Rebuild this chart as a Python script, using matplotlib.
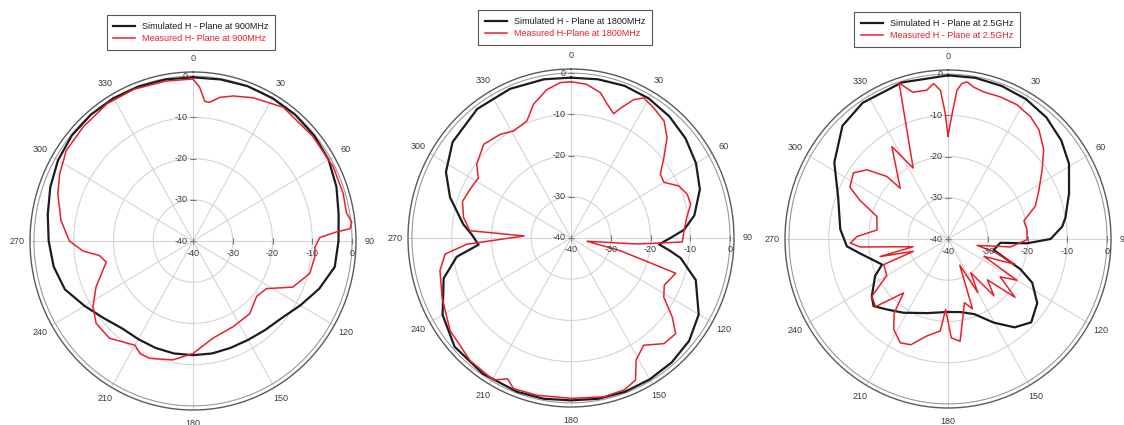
import numpy as np
import matplotlib.pyplot as plt
from matplotlib.transforms import offset_copy

plt.rcParams['font.family'] = ['Liberation Sans', 'DejaVu Sans']

# ---- 900 MHz -------------------------------------------------------------
sim_900_deg = [0, 10, 20, 30, 40, 50, 60, 70, 80, 90, 100, 110, 120, 130, 140,
               150, 160, 170, 180, 190, 200, 210, 220, 230, 240, 250, 260, 270,
               280, 290, 300, 310, 320, 330, 340, 350, 360]
sim_900_db = [-0.3, -0.2, 0, 0, 0, -0.2, -0.6, -1.6, -2.8, -3.4, -3.8, -6.2,
              -8.8, -10.9, -11.8, -12.3, -12.4, -12.3, -12.3, -12.3, -12.4,
              -12.5, -12.3, -10.8, -8.5, -5.7, -4.4, -3.7, -2.9, -1.8, -0.8,
              -0.2, 0, 0, -0.1, -0.2, -0.3]

meas_900_deg = [0, 2.6, 5, 7, 11, 16, 23.5, 35, 50, 63, 73, 80, 83.4, 85.7,
                86.5, 88.5, 92.8, 97, 105, 114, 122, 130, 141, 154, 168, 180,
                190, 201, 206, 210, 221.7, 230.7, 237.6, 245.5, 256.8, 261.5,
                265, 270, 278.6, 288.7, 296, 304.5, 315, 327, 338, 350, 360]
meas_900_db = [-0.7, -2.7, -6, -6.1, -4.5, -3.4, -2.1, -0.4, -0.6, -0.4, -0.5,
               -0.8, 0.2, -0.4, -3.8, -8.1, -9.3, -9.1, -9.6, -12.5, -18.2,
               -19.1, -17.3, -16.9, -15.9, -12.7, -10.7, -9.5, -9.6, -10.8,
               -8.4, -8.5, -10.2, -13.2, -17.6, -16.2, -12.2, -8.9, -6.4, -4.1,
               -2.7, -1.3, -0.9, -0.3, -0.3, -0.6, -0.7]

# ---- 1800 MHz ------------------------------------------------------------
sim_1800_deg = [0, 10, 20, 30, 40, 50, 60, 70, 80, 86, 90, 94, 97, 100, 108,
                120, 130, 140, 150, 160, 170, 180, 190, 200, 214, 228, 240, 253,
                261, 266, 272, 277, 288, 297, 308, 323, 337, 350, 360]
sim_1800_db = [-1.1, -0.9, -0.7, -0.9, -1.5, -2.4, -3.7, -5.5, -8.5, -11.5,
               -15, -17.8, -15, -12, -7, -2.9, -1.2, -0.6, -0.4, -0.3, -0.4,
               -0.6, -0.4, -0.3, -0.3, -0.6, -2.7, -6.5, -10.9, -16.7, -15,
               -12.7, -8, -4.7, -2.2, -0.8, -0.7, -0.9, -1.1]

meas_1800_deg = [0, 6, 11.9, 15.7, 19.6, 21.5, 25.2, 28.3, 33.4, 39.5, 44.8,
                 50.2, 55.4, 60, 65, 70, 74.8, 80, 86.4, 92, 95, 101, 104, 107,
                 108, 116, 121.6, 127, 131.4, 137.6, 144.9, 151, 154.8, 160,
                 168, 180, 192.7, 201.6, 205, 209.5, 220.5, 233.6, 246, 256.5,
                 263, 266.7, 272.4, 274, 280.5, 288, 295, 302, 307, 316, 324.8,
                 331, 338.7, 343.8, 350.4, 356, 360]
meas_1800_db = [-2.1, -2.5, -4, -6.3, -8, -6.2, -2.9, -1.4, -2.2, -3.2, -5.7,
                -9.6, -12.7, -13, -10.1, -8.9, -8.8, -10.4, -11.5, -12, -23.3,
                -35.9, -27.2, -18.3, -12.3, -13.9, -12.6, -8.1, -4.9, -5.3,
                -8.2, -6.2, -1.9, -0.8, -0.6, -1.1, -0.9, -0.7, -2.3, -0.4,
                -0.9, -2.2, -4.5, -6.1, -8.1, -13.8, -28.2, -14.5, -12.5,
                -11.3, -12, -12.5, -10.3, -8.4, -9.2, -10.3, -9.5, -6.2, -3.5,
                -2.2, -2.1]

# ---- 2.5 GHz -------------------------------------------------------------
sim_2500_deg = [0, 10, 20, 30, 40, 50, 59, 70, 80, 84, 90, 93, 94, 103, 108.6,
                112, 116.6, 124.7, 134, 142, 150.5, 160, 170, 180, 196, 212,
                222, 229, 234, 244, 249.5, 261, 266, 275, 290, 303, 316, 327,
                343, 360]
sim_2500_db = [-0.3, -0.3, -0.5, -0.8, -1.5, -2.8, -4.5, -7.6, -10, -11.1,
               -14.2, -20.1, -26.8, -28.2, -24.3, -20.3, -16.3, -12.7, -10.9,
               -12.8, -16.7, -20.6, -22, -22.3, -21.3, -18.9, -17, -15.2, -16.3,
               -19.6, -22.3, -17.6, -14.5, -12.8, -10.6, -5.9, -1.8, -0.6, -0.3,
               -0.3]

meas_2500_deg = [0, 2, 3.6, 5.3, 7.2, 10, 14, 21, 28, 35, 40.8, 48, 54.7, 62.5,
                 70, 77, 83.4, 90.5, 97, 102, 105, 110, 115, 120, 125, 130, 135,
                 140, 145, 150, 155, 160, 165, 173, 178, 182, 185, 192.7, 200,
                 205.5, 212, 217, 220.5, 228, 234, 240, 249, 251, 256, 258, 265,
                 267.7, 271.5, 277, 287, 293, 297, 304, 309.5, 314.6, 315.7,
                 327.8, 333, 342, 346, 351.6, 354.5, 357, 358.7, 360]
meas_2500_db = [-15, -9.5, -3.8, -2.1, -1.6, -2.6, -3.2, -3.1, -3.1, -3.8, -5,
                -7.6, -11, -14.2, -16.6, -20.4, -20, -20.1, -24.2, -32.5, -28,
                -22, -30, -20, -24, -18, -26, -22, -30, -25, -33, -22, -24, -15,
                -16, -22.9, -17.6, -15.9, -12.7, -12.1, -14.2, -17.5, -22.8,
                -15.5, -16.3, -22.2, -22.7, -30.8, -22.4, -31, -17.8, -15.4,
                -17.1, -22, -21.3, -15.9, -12.3, -11.3, -13.6, -18.4, -22.8,
                -13.5, -20.7, -0.2, -3.3, -3.5, -2.1, -3.9, -9.5, -15]

angle_ticks = list(range(0, 360, 30))
ring_levels = [-30, -20, -10, 0]
radial_labels = [0, -10, -20, -30, -40]
r_min, r_max = -40, 1

panels = [
    dict(sim=(sim_900_deg, sim_900_db), meas=(meas_900_deg, meas_900_db),
         names=('Simulated H - Plane at 900MHz', 'Measured H- Plane at 900MHz'),
         centre=(193, 241), legend_at=(191, 15)),
    dict(sim=(sim_1800_deg, sim_1800_db), meas=(meas_1800_deg, meas_1800_db),
         names=('Simulated H - Plane at 1800MHz', 'Measured H-Plane at 1800MHz'),
         centre=(571, 238), legend_at=(565, 10)),
    dict(sim=(sim_2500_deg, sim_2500_db), meas=(meas_2500_deg, meas_2500_db),
         names=('Simulated H - Plane at 2.5GHz', 'Measured H - Plane at 2.5GHz'),
         centre=(948, 239), legend_at=(937, 12)),
]

W, H = 1124, 425
RX, RY = 163, 169          # pixel radius of the outer ring
BLACK, RED = '#1c1c1c', '#e8202a'
GRID = '#d4d4d4'
TXT = '#3a3a3a'

fig = plt.figure(figsize=(W / 100, H / 100), dpi=100)

for p in panels:
    cx, cy = p['centre']
    ax = fig.add_axes([(cx - RX) / W, (H - cy - RY) / H, 2 * RX / W, 2 * RY / H],
                      projection='polar')
    ax.set_aspect('auto')
    ax.set_theta_zero_location('N')
    ax.set_theta_direction(-1)
    ax.set_rlim(r_min, r_max)

    # grid
    ax.set_yticks(ring_levels)
    ax.set_yticklabels([])
    ax.set_xticks(np.deg2rad(angle_ticks))
    ax.set_xticklabels([str(a) for a in angle_ticks], fontsize=6.5, color=TXT)
    ax.tick_params(axis='x', pad=-1)
    ax.grid(True, color=GRID, lw=0.8)
    ax.yaxis.get_gridlines()[-1].set_color('#9a9a9a')
    ax.spines['polar'].set_color('#5a5a5a')
    ax.spines['polar'].set_linewidth(1.0)

    # radial scale along the 0 deg and 90 deg spokes
    left = offset_copy(ax.transData, fig=fig, x=-5, y=0, units='dots')
    below = offset_copy(ax.transData, fig=fig, x=0, y=-12, units='dots')
    for lv in radial_labels:
        ax.text(0, lv, str(lv), transform=left, ha='right', va='center',
                fontsize=6.5, color=TXT)
        ax.text(np.pi / 2, lv, str(lv), transform=below, ha='center',
                va='center', fontsize=6.5, color=TXT)
    ax.plot(np.zeros(len(radial_labels)), radial_labels, ls='none',
            marker='_', ms=4, mew=0.8, color='#7a7a7a', clip_on=False)
    ax.plot(np.full(len(radial_labels), np.pi / 2), radial_labels, ls='none',
            marker='|', ms=4, mew=0.8, color='#7a7a7a', clip_on=False)

    sd, sv = p['sim']
    md, mv = p['meas']
    h1, = ax.plot(np.deg2rad(sd), sv, color=BLACK, lw=1.6, label=p['names'][0])
    h2, = ax.plot(np.deg2rad(md), mv, color=RED, lw=1.1, label=p['names'][1])

    lx, ly = p['legend_at']
    ax.legend(handles=[h1, h2], loc='upper center',
              bbox_to_anchor=(lx / W, 1 - ly / H),
              bbox_transform=fig.transFigure, borderaxespad=0, fontsize=6.5,
              frameon=True, fancybox=False, edgecolor='#555555', framealpha=1,
              handlelength=2.4, labelspacing=0.35, borderpad=0.75,
              labelcolor=[BLACK, RED])
    ax.get_legend().get_frame().set_linewidth(0.8)

fig.savefig('out.png', dpi=100)
